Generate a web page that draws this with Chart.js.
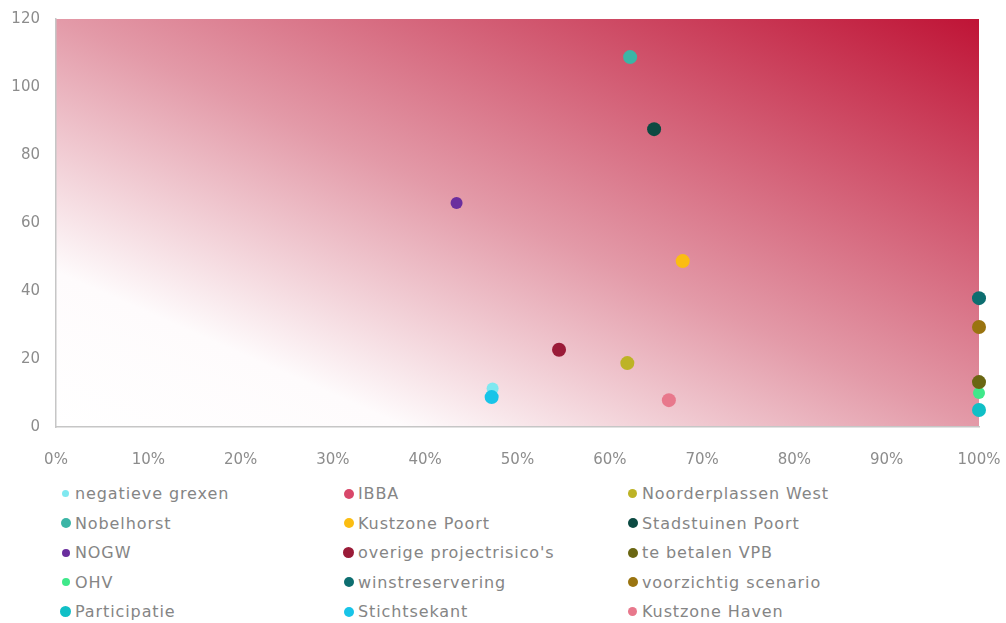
<!DOCTYPE html>
<html>
<head>
<meta charset="utf-8">
<script src="https://cdn.jsdelivr.net/npm/chart.js@4/dist/chart.umd.min.js"></script>
<style>
  html, body { margin: 0; padding: 0; background: #fff; }
  body { width: 1006px; height: 623px; position: relative; overflow: hidden; font-family: "DejaVu Sans", sans-serif; }
  #wrap { position: absolute; left: 0; top: 0; width: 1006px; height: 470px; }
  #legend {
    position: absolute; left: 60px; top: 479px;
    display: grid; grid-auto-flow: column;
    grid-template-rows: repeat(5, 29.5px);
    grid-template-columns: 283px 284px 300px;
  }
  .item { display: flex; align-items: center; color: #858585; font-size: 16px; letter-spacing: 0.9px; white-space: nowrap; }
  .dot { border-radius: 50%; flex: none; }
</style>
</head>
<body>
<div id="wrap"><canvas id="c"></canvas></div>
<div id="legend"></div>
<script>
// Projects / risk items, in legend order (column by column)
const names = [
  'negatieve grexen', 'Nobelhorst', 'NOGW', 'OHV', 'Participatie',
  'IBBA', 'Kustzone Poort', "overige projectrisico's", 'winstreservering', 'Stichtsekant',
  'Noorderplassen West', 'Stadstuinen Poort', 'te betalen VPB', 'voorzichtig scenario', 'Kustzone Haven'
];
// Horizontal position (percentage)
const xValues = [47.3, 62.2, 43.4, 100, 100, null, 67.9, 54.5, 100, 47.2, 61.9, 64.8, 100, 100, 66.4];
// Vertical position
const yValues = [11.3, 108.8, 65.9, 10.0, 5.0, null, 48.8, 22.7, 37.9, 8.8, 18.8, 87.6, 13.2, 29.4, 7.9];

const xTickLabels = ['0%', '10%', '20%', '30%', '40%', '50%', '60%', '70%', '80%', '90%', '100%'];
const yTickLabels = ['0', '20', '40', '60', '80', '100', '120'];

const colors = [
  '#7fe8f0', '#3bb5a6', '#6a2e9e', '#3fe88a', '#10bfc6',
  '#d8476a', '#fbbd12', '#9a1b38', '#0d6e70', '#18c4e8',
  '#bdb326', '#0c4a42', '#6a6612', '#9a7410', '#e8788c'
];
const radii = [6, 7, 6, 6, 7, 7, 7, 7, 7, 7, 7, 7, 7, 7, 7];
const legendSize = [7, 10, 8, 8, 11, 10, 10, 11, 10, 10, 9, 10, 10, 10, 9];
// items drawn underneath their neighbours
const below = new Set(['negatieve grexen', 'OHV']);

const datasets = names.map((name, i) => ({
  label: name,
  data: xValues[i] === null ? [] : [{ x: xValues[i], y: yValues[i] }],
  backgroundColor: colors[i],
  borderColor: colors[i],
  borderWidth: 0,
  pointRadius: radii[i],
  pointHoverRadius: radii[i],
  order: below.has(name) ? 1 : 0,
  clip: false
}));

// diagonal white-to-crimson wash behind the plot area
const gradientArea = {
  id: 'gradientArea',
  beforeDraw(chart) {
    const { ctx, chartArea: a } = chart;
    const W = a.right - a.left, H = a.bottom - a.top;
    const d = Math.sqrt(W * W + H * H);
    const ux = H / d, uy = -W / d;
    const len = 2 * W * H / d;
    const cx = (a.left + a.right) / 2, cy = (a.top + a.bottom) / 2;
    const g = ctx.createLinearGradient(cx - ux * len / 2, cy - uy * len / 2, cx + ux * len / 2, cy + uy * len / 2);
    g.addColorStop(0, '#ffffff');
    g.addColorStop(0.19, '#fefbfc');
    g.addColorStop(0.5, '#e39aa8');
    g.addColorStop(1, '#bf1436');
    ctx.save();
    ctx.fillStyle = g;
    ctx.fillRect(a.left, a.top, W, H);
    ctx.restore();
  }
};

const tickFont = { family: '"DejaVu Sans", sans-serif', size: 15 };

new Chart(document.getElementById('c'), {
  type: 'scatter',
  data: { datasets },
  options: {
    responsive: true,
    maintainAspectRatio: false,
    animation: false,
    layout: { padding: 0 },
    plugins: { legend: { display: false }, tooltip: { enabled: false } },
    scales: {
      x: {
        type: 'linear', min: 0, max: 100,
        grid: { display: false },
        border: { display: true, color: '#c6c6c6', width: 1.5 },
        ticks: {
          stepSize: 10, padding: 16, color: '#8c8c8c', font: tickFont, maxRotation: 0,
          callback: (v, i) => xTickLabels[i]
        },
        afterFit(s) { s.height = 43; s.paddingRight = 27; }
      },
      y: {
        type: 'linear', min: 0, max: 120,
        grid: { display: false },
        border: { display: true, color: '#c6c6c6', width: 1.5 },
        ticks: {
          stepSize: 20, padding: 8, color: '#8c8c8c', font: tickFont,
          callback: (v, i) => yTickLabels[i]
        },
        afterFit(s) { s.width = 56; s.paddingTop = 19; }
      }
    }
  },
  plugins: [gradientArea]
});

// legend laid out in three columns
const legend = document.getElementById('legend');
names.forEach((name, i) => {
  const item = document.createElement('div');
  item.className = 'item';
  const dot = document.createElement('span');
  dot.className = 'dot';
  dot.style.width = legendSize[i] + 'px';
  dot.style.height = legendSize[i] + 'px';
  dot.style.background = colors[i];
  dot.style.marginLeft = ((11 - legendSize[i]) / 2) + 'px';
  dot.style.marginRight = (4 + (11 - legendSize[i]) / 2) + 'px';
  const txt = document.createElement('span');
  txt.textContent = name;
  item.appendChild(dot);
  item.appendChild(txt);
  legend.appendChild(item);
});
</script>
</body>
</html>
